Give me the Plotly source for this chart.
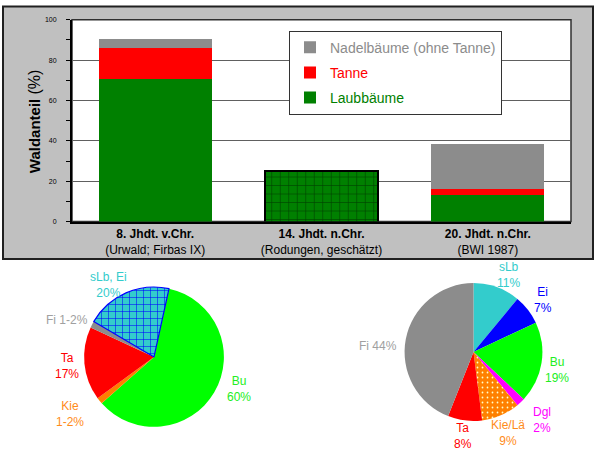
import plotly.graph_objects as go

# ---------------- data ----------------
categories = ["8. Jhdt. v.Chr.", "14. Jhdt. n.Chr.", "20. Jhdt. n.Chr."]
sublabels = ["(Urwald; Firbas IX)", "(Rodungen, geschätzt)", "(BWI 1987)"]
laub = [70.7, None, 13.3]
tanne = [15.5, None, 2.9]
nadel = [4.2, None, 22.3]
gesamt = [None, 25.2, None]
yticks = [0, 20, 40, 60, 80, 100]
yminor = [10, 30, 50, 70, 90]

pie1_labels = ["Bu", "Kie", "Ta", "Fi", "sLb, Ei"]
pie1_values = [60, 1.5, 17, 1.5, 20]
pie1_texts = ["Bu<br>60%", "Kie<br>1-2%", "Ta<br>17%", "Fi 1-2%", "sLb, Ei<br>20%"]

pie2_labels = ["sLb", "Ei", "Bu", "Dgl", "Kie/Lä", "Ta", "Fi"]
pie2_values = [11, 7, 19, 2, 9, 8, 44]
pie2_texts = ["sLb<br>11%", "Ei<br>7%", "Bu<br>19%", "Dgl<br>2%", "Kie/Lä<br>9%", "Ta<br>8%", "Fi 44%"]

# ---------------- style ----------------
W, H = 600, 453
FONT = "Arial, Liberation Sans, sans-serif"
GREEN, RED, GRAY = "#008000", "#ff0000", "#8c8c8c"

def px(x):
    return x / W

def py(y):
    return 1 - y / H

plot_l, plot_r, plot_t, plot_b = 72, 571, 16, 221

pie1_colors = ["#00ff00", "#ff7f00", "#ff0000", "#8c8c8c", "#33cccc"]
pie1_label_colors = ["#22ee22", "#ff8c1a", "#ff0000", "#a0a0a0", "#33cccc"]
pie1_label_pos = [(239, 391), (70, 416), (67, 368), (67, 321), (108, 285)]

pie2_colors = ["#33cccc", "#0000ff", "#00ff00", "#ff00ff", "#ff8000", "#ff0000", "#8c8c8c"]
pie2_label_colors = ["#33cccc", "#0000ff", "#22ee22", "#ff00ff", "#ff8c1a", "#ff0000", "#a0a0a0"]
pie2_label_pos = [(508, 275), (543, 301), (557, 372), (542, 423), (508, 436), (463, 439), (378, 347)]

fig = go.Figure()

fig.add_trace(go.Bar(
    x=categories, y=laub, name='<span style="color:#008000">Laubbäume</span>',
    marker=dict(color=GREEN, line=dict(width=0)), legendgroup="a", legendrank=3,
))
fig.add_trace(go.Bar(
    x=categories, y=tanne, name='<span style="color:#ff0000">Tanne</span>',
    marker=dict(color=RED, line=dict(width=0)), legendgroup="b", legendrank=2,
))
fig.add_trace(go.Bar(
    x=categories, y=nadel, name='<span style="color:#8c8c8c">Nadelbäume (ohne Tanne)</span>',
    marker=dict(color=GRAY, line=dict(width=0)), legendgroup="c", legendrank=1,
))
fig.add_trace(go.Bar(
    x=categories, y=gesamt, showlegend=False,
    marker=dict(color=GREEN, line=dict(width=2, color="black"),
                pattern=dict(shape="+", fgcolor="black", bgcolor=GREEN, size=8.5, solidity=0.13)),
))

fig.add_trace(go.Pie(
    labels=pie1_labels, values=pie1_values, sort=False, direction="clockwise", rotation=12.4,
    textinfo="none", hoverinfo="label+value", showlegend=False,
    domain=dict(x=[px(154 - 71), px(154 + 71)], y=[py(358.5 + 71), py(358.5 - 71)]),
    marker=dict(colors=pie1_colors,
                line=dict(width=[0, 0, 0, 0, 1.2], color=["white", "white", "white", "white", "#0000ff"]),
                pattern=dict(shape=["", "", "", "", "+"], fgcolor=["black"] * 4 + ["#0000ff"],
                             bgcolor=pie1_colors, size=7, solidity=0.15)),
))
fig.add_trace(go.Pie(
    labels=pie2_labels, values=pie2_values, sort=False, direction="clockwise", rotation=0,
    textinfo="none", hoverinfo="label+value", showlegend=False,
    domain=dict(x=[px(473.5 - 70), px(473.5 + 70)], y=[py(353.5 + 70), py(353.5 - 70)]),
    marker=dict(colors=pie2_colors,
                pattern=dict(shape=["", "", "", "", ".", "", ""], fgcolor=["black"] * 4 + ["#ffffcc"] + ["black"] * 2,
                             bgcolor=pie2_colors, size=5, solidity=0.1)),
))

annotations = []
for t, c, (x, y) in zip(pie1_texts, pie1_label_colors, pie1_label_pos):
    annotations.append(dict(text=t, x=px(x), y=py(y), xref="paper", yref="paper", showarrow=False,
                            xanchor="center", yanchor="middle", font=dict(size=12, color=c, family=FONT)))
for t, c, (x, y) in zip(pie2_texts, pie2_label_colors, pie2_label_pos):
    annotations.append(dict(text=t, x=px(x), y=py(y), xref="paper", yref="paper", showarrow=False,
                            xanchor="center", yanchor="middle", font=dict(size=12, color=c, family=FONT)))
annotations.append(dict(text="<b>Waldanteil</b> <span style='font-size:16px'>(%)</span>", textangle=-90,
                        x=px(34), y=py(119),
                        xref="paper", yref="paper", showarrow=False, xanchor="center", yanchor="middle",
                        font=dict(size=15, color="black", family=FONT)))

shapes = [
    dict(type="rect", xref="paper", yref="paper", x0=px(3), x1=px(593), y0=py(259), y1=py(2.5),
         fillcolor="#c0c0c0", line=dict(color="#202020", width=2), layer="below"),
    dict(type="rect", xref="paper", yref="paper", x0=px(plot_l), x1=px(plot_r), y0=py(plot_b), y1=py(plot_t),
         fillcolor="white", line=dict(color="#303030", width=1.5), layer="below"),
]

fig.update_layout(
    width=W, height=H, margin=dict(l=0, r=0, t=0, b=0),
    paper_bgcolor="white", plot_bgcolor="white",
    font=dict(family=FONT, color="black"),
    barmode="stack", bargap=0.32,
    xaxis=dict(domain=[px(plot_l), px(plot_r)], type="category",
               tickvals=categories,
               ticktext=[f"<b>{c}</b><br>{s}" for c, s in zip(categories, sublabels)],
               tickfont=dict(size=12, color="black", family=FONT),
               showline=True, linecolor="black", linewidth=2, ticks="", showgrid=False,
               fixedrange=True),
    yaxis=dict(domain=[py(plot_b), py(plot_t)], range=[0, 100], tickvals=yticks,
               tickfont=dict(size=7, color="black", family=FONT),
               ticks="outside", ticklen=4, tickcolor="black", tickwidth=1,
               ticklabelstandoff=8,
               minor=dict(tickvals=yminor, ticks="outside", ticklen=4, tickcolor="black", showgrid=False),
               showline=True, linecolor="black", linewidth=2,
               showgrid=True, gridcolor="#606060", gridwidth=1, zeroline=False, fixedrange=True),
    showlegend=True,
    legend=dict(x=px(289), y=py(27), xanchor="left", yanchor="top",
                bgcolor="white", bordercolor="#333333", borderwidth=1,
                font=dict(size=14, family=FONT),
                traceorder="grouped", tracegroupgap=4,
                itemclick=False, itemdoubleclick=False),
    annotations=annotations, shapes=shapes,
)

fig.write_html("out.html")
